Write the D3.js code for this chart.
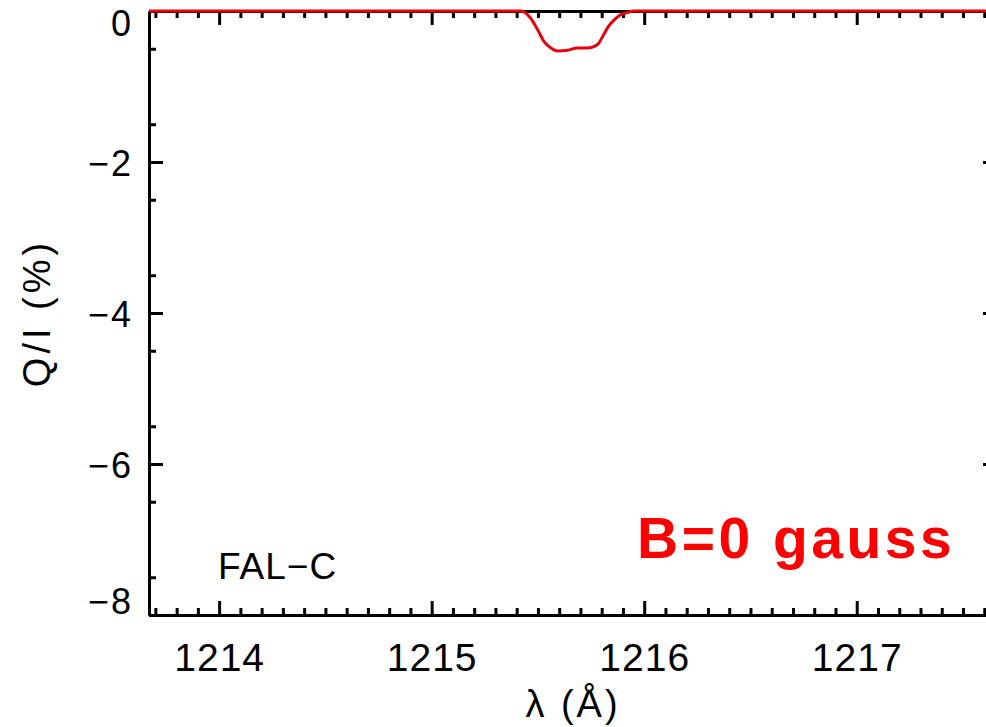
<!DOCTYPE html>
<html>
<head>
<meta charset="utf-8">
<script src="https://cdn.jsdelivr.net/npm/d3@7"></script>
<style>
  body { margin: 0; background: #fff; }
  svg { display: block; font-family: "Liberation Sans", Arial, sans-serif; }
  .axis path, .axis line { stroke: #000; stroke-width: 3; }
  .axis path { fill: none; }
  .axis text { fill: #000; font-family: "Liberation Sans", Arial, sans-serif; }
</style>
</head>
<body>
<script>
// Q/I profile around Lyman alpha, FAL-C model, B = 0
var lambda = [1213.67, 1215.30, 1215.42, 1215.467, 1215.499, 1215.530, 1215.561, 1215.593,
              1215.640, 1215.686, 1215.733, 1215.755, 1215.785, 1215.81, 1215.835, 1215.858,
              1215.889, 1215.921, 1215.950, 1216.10, 1217.66];
var qi     = [0, 0, 0, -0.10, -0.25, -0.41, -0.49, -0.53,
              -0.52, -0.49, -0.49, -0.48, -0.43, -0.31, -0.19, -0.12,
              -0.05, -0.02, 0, 0, 0];

var xMajor = [1214, 1215, 1216, 1217];
var yMajor = [0, -2, -4, -6, -8];

var width = 986,
    height = 727;

var margin = {left: 149, right: 997, top: 11, bottom: 615};

var x = d3.scaleLinear()
    .domain([1213.67, 1217.66])
    .range([margin.left, margin.right]);

var y = d3.scaleLinear()
    .domain([-8, 0])
    .range([margin.bottom, margin.top]);

var xMinor = d3.range(1213.7, 1217.66, 0.1).map(function(d) { return +d.toFixed(1); })
    .filter(function(d) { return xMajor.indexOf(d) < 0; });
var yMinor = d3.range(-7.5, 0, 1);

var svg = d3.select("body").append("svg")
    .attr("width", width)
    .attr("height", height);

// bottom axis, inward ticks
svg.append("g")
    .attr("class", "axis")
    .attr("transform", "translate(0," + margin.bottom + ")")
    .call(d3.axisBottom(x).tickValues(xMinor).tickSize(-7).tickSizeOuter(0).tickFormat(""));
svg.append("g")
    .attr("class", "axis")
    .attr("transform", "translate(0," + margin.bottom + ")")
    .call(d3.axisBottom(x).tickValues(xMajor).tickSize(-14).tickSizeOuter(0).tickPadding(28).tickFormat(d3.format("d")))
    .selectAll("text").style("font-size", "39px").style("letter-spacing", "1px");

// top axis
svg.append("g")
    .attr("class", "axis")
    .attr("transform", "translate(0," + margin.top + ")")
    .call(d3.axisTop(x).tickValues(xMinor).tickSize(-7).tickSizeOuter(0).tickFormat(""));
svg.append("g")
    .attr("class", "axis")
    .attr("transform", "translate(0," + margin.top + ")")
    .call(d3.axisTop(x).tickValues(xMajor).tickSize(-14).tickSizeOuter(0).tickFormat(""));

// left axis
svg.append("g")
    .attr("class", "axis")
    .attr("transform", "translate(" + margin.left + ",0)")
    .call(d3.axisLeft(y).tickValues(yMinor).tickSize(-7).tickSizeOuter(0).tickFormat(""));
var yAx = svg.append("g")
    .attr("class", "axis")
    .attr("transform", "translate(" + margin.left + ",0)")
    .call(d3.axisLeft(y).tickValues(yMajor).tickSize(-14).tickSizeOuter(0).tickPadding(16).tickFormat(d3.format("d")));
yAx.selectAll("text")
    .style("font-size", "36px")
    .style("letter-spacing", "2px")
    .attr("dy", function(d) { return d === 0 ? "0.68em" : d === -8 ? "-0.05em" : "0.38em"; });

// right axis (mostly off the edge)
svg.append("g")
    .attr("class", "axis")
    .attr("transform", "translate(" + margin.right + ",0)")
    .call(d3.axisRight(y).tickValues(yMinor).tickSize(-7).tickSizeOuter(0).tickFormat(""));
svg.append("g")
    .attr("class", "axis")
    .attr("transform", "translate(" + margin.right + ",0)")
    .call(d3.axisRight(y).tickValues(yMajor).tickSize(-14).tickSizeOuter(0).tickFormat(""));

// profile
var line = d3.line()
    .x(function(d, i) { return x(lambda[i]); })
    .y(function(d) { return y(d); })
    .curve(d3.curveMonotoneX);

svg.append("path")
    .datum(qi)
    .attr("fill", "none")
    .attr("stroke", "#e8000b")
    .attr("stroke-width", 3)
    .attr("d", line);

// axis titles
svg.append("text")
    .attr("x", (margin.left + margin.right) / 2)
    .attr("y", 717)
    .attr("text-anchor", "middle")
    .style("font-size", "38px")
    .style("letter-spacing", "3px")
    .text("λ (Å)");

svg.append("text")
    .attr("transform", "translate(50," + ((margin.top + margin.bottom) / 2) + ") rotate(-90)")
    .attr("text-anchor", "middle")
    .style("font-size", "38px")
    .style("letter-spacing", "4px")
    .text("Q/I (%)");

svg.append("text")
    .attr("x", 218)
    .attr("y", 579)
    .style("font-size", "37px")
    .style("letter-spacing", "1px")
    .text("FAL\u2212C");

svg.append("text")
    .attr("x", 637)
    .attr("y", 558)
    .attr("fill", "#ff0000")
    .style("font-size", "57px")
    .style("font-weight", "bold")
    .style("letter-spacing", "3.5px")
    .text("B=0 gauss");
</script>
</body>
</html>
